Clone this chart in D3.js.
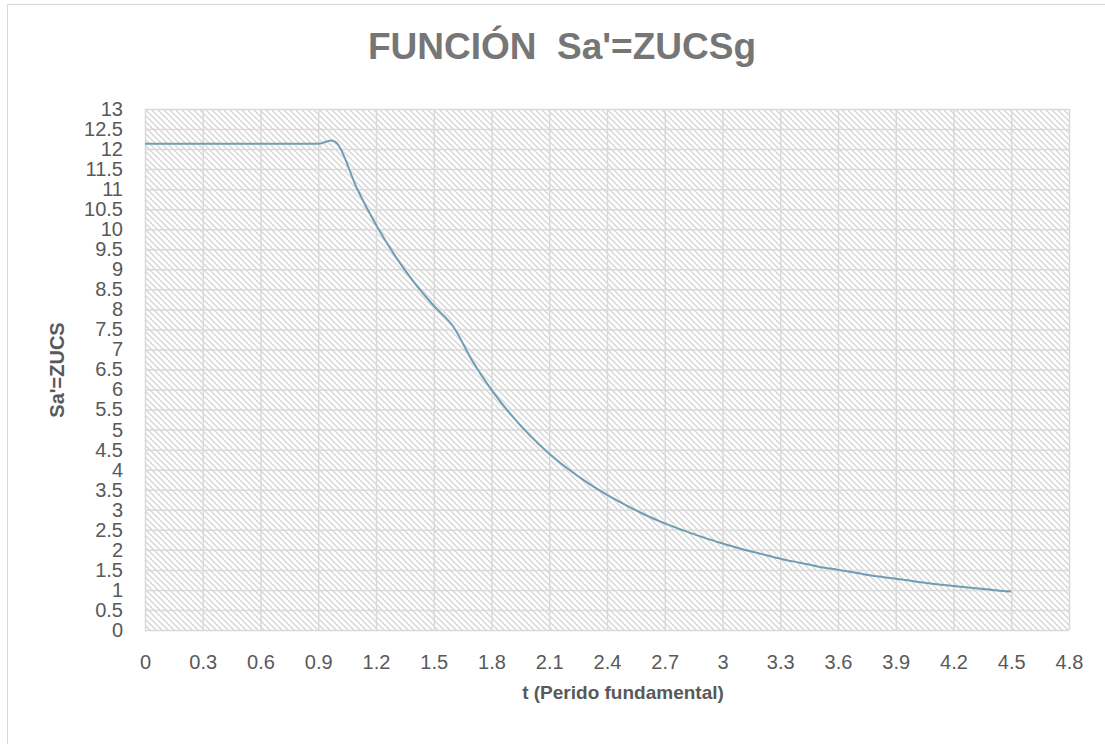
<!DOCTYPE html>
<html>
<head>
<meta charset="utf-8">
<script src="https://cdn.jsdelivr.net/npm/d3@7"></script>
<style>
  body { margin: 0; background: #fff; }
  text { font-family: "Liberation Sans", Arial, sans-serif; }
</style>
</head>
<body>
<div id="chart"></div>
<script>
// periodo T (s) and Sa' values
const periods = [0, 0.1, 0.2, 0.3, 0.4, 0.5, 0.6, 0.7, 0.8, 0.9, 1.0,
  1.1, 1.2, 1.3, 1.4, 1.5, 1.6, 1.7, 1.8, 1.9, 2.0,
  2.1, 2.2, 2.3, 2.4, 2.5, 2.6, 2.7, 2.8, 2.9, 3.0,
  3.1, 3.2, 3.3, 3.4, 3.5, 3.6, 3.7, 3.8, 3.9, 4.0,
  4.1, 4.2, 4.3, 4.4, 4.5];
const saValues = [12.13, 12.13, 12.13, 12.13, 12.13, 12.13, 12.13, 12.13, 12.13, 12.13, 12.13,
  11.03, 10.11, 9.33, 8.66, 8.09, 7.58, 6.72, 5.99, 5.38, 4.85,
  4.40, 4.01, 3.67, 3.37, 3.11, 2.87, 2.66, 2.48, 2.31, 2.16,
  2.02, 1.90, 1.78, 1.68, 1.58, 1.50, 1.42, 1.34, 1.28, 1.21,
  1.15, 1.10, 1.05, 1.00, 0.96];
const xTicks = [0, 0.3, 0.6, 0.9, 1.2, 1.5, 1.8, 2.1, 2.4, 2.7, 3, 3.3, 3.6, 3.9, 4.2, 4.5, 4.8];
const yTicks = d3.range(0, 13.01, 0.5);

const width = 1105, height = 744;
const margin = { top: 109, right: 36, bottom: 114, left: 145 };
const innerW = width - margin.left - margin.right;
const innerH = height - margin.top - margin.bottom;

const svg = d3.select('#chart').append('svg')
  .attr('width', width)
  .attr('height', height);

// chart frame (runs off the picture on right/bottom)
svg.append('rect')
  .attr('x', 7.5).attr('y', 4.5)
  .attr('width', 1120).attr('height', 760)
  .attr('fill', '#fff')
  .attr('stroke', '#d9d9d9');

const defs = svg.append('defs');
const pat = defs.append('pattern')
  .attr('id', 'hatch')
  .attr('patternUnits', 'userSpaceOnUse')
  .attr('width', 6).attr('height', 6);
pat.append('path')
  .attr('d', 'M-1,-1 L7,7 M-4,2 L2,8 M4,-2 L10,4')
  .attr('stroke', '#d6d6d6')
  .attr('stroke-width', 1.4);

const g = svg.append('g')
  .attr('transform', `translate(${margin.left},${margin.top})`);

const x = d3.scaleLinear().domain([0, 4.8]).range([0, innerW]);
const y = d3.scaleLinear().domain([0, 13]).range([innerH, 0]);

g.append('rect')
  .attr('width', innerW).attr('height', innerH)
  .attr('fill', 'url(#hatch)');

// grid
g.append('g')
  .attr('transform', `translate(0,${innerH})`)
  .call(d3.axisBottom(x).tickValues(xTicks).tickSize(-innerH).tickFormat(''))
  .call(a => a.select('.domain').remove())
  .selectAll('line').attr('stroke', '#d9d9d9').attr('stroke-width', 1.5);

g.append('g')
  .call(d3.axisLeft(y).tickValues(yTicks).tickSize(-innerW).tickFormat(''))
  .call(a => a.select('.domain').remove())
  .selectAll('line').attr('stroke', '#d9d9d9').attr('stroke-width', 1.5);

// tick labels
const xAxis = g.append('g')
  .attr('transform', `translate(0,${innerH})`)
  .call(d3.axisBottom(x).tickValues(xTicks).tickSize(0).tickPadding(25).tickFormat(d3.format('')));
xAxis.select('.domain').remove();
xAxis.selectAll('text')
  .attr('fill', '#595959')
  .style('font-size', '20px')
  .style('font-family', '"Liberation Sans", Arial, sans-serif');

const yAxis = g.append('g')
  .call(d3.axisLeft(y).tickValues(yTicks).tickSize(0).tickPadding(22).tickFormat(d3.format('')));
yAxis.select('.domain').remove();
yAxis.selectAll('text')
  .attr('fill', '#595959')
  .style('font-size', '20px')
  .style('font-family', '"Liberation Sans", Arial, sans-serif');

// curve
const pts = periods.map((t, i) => [t, saValues[i]]);
g.append('path')
  .datum(pts)
  .attr('fill', 'none')
  .attr('stroke', '#6f9db3')
  .attr('stroke-width', 2)
  .attr('d', d3.line()
    .x(d => x(d[0]))
    .y(d => y(d[1]))
    .curve(d3.curveCardinal.tension(0)));

// title
svg.append('text')
  .attr('x', 562).attr('y', 59)
  .attr('text-anchor', 'middle')
  .attr('fill', '#767676')
  .style('font-size', '37px')
  .style('font-weight', 'bold')
  .attr('xml:space', 'preserve')
  .text("FUNCIÓN  Sa'=ZUCSg");

// axis titles
svg.append('text')
  .attr('x', 623).attr('y', 699)
  .attr('text-anchor', 'middle')
  .attr('fill', '#595959')
  .style('font-size', '19px')
  .style('font-weight', 'bold')
  .text('t (Perido fundamental)');

svg.append('text')
  .attr('transform', 'translate(64,370) rotate(-90)')
  .attr('text-anchor', 'middle')
  .attr('fill', '#595959')
  .style('font-size', '20px')
  .style('font-weight', 'bold')
  .text("Sa'=ZUCS");
</script>
</body>
</html>
